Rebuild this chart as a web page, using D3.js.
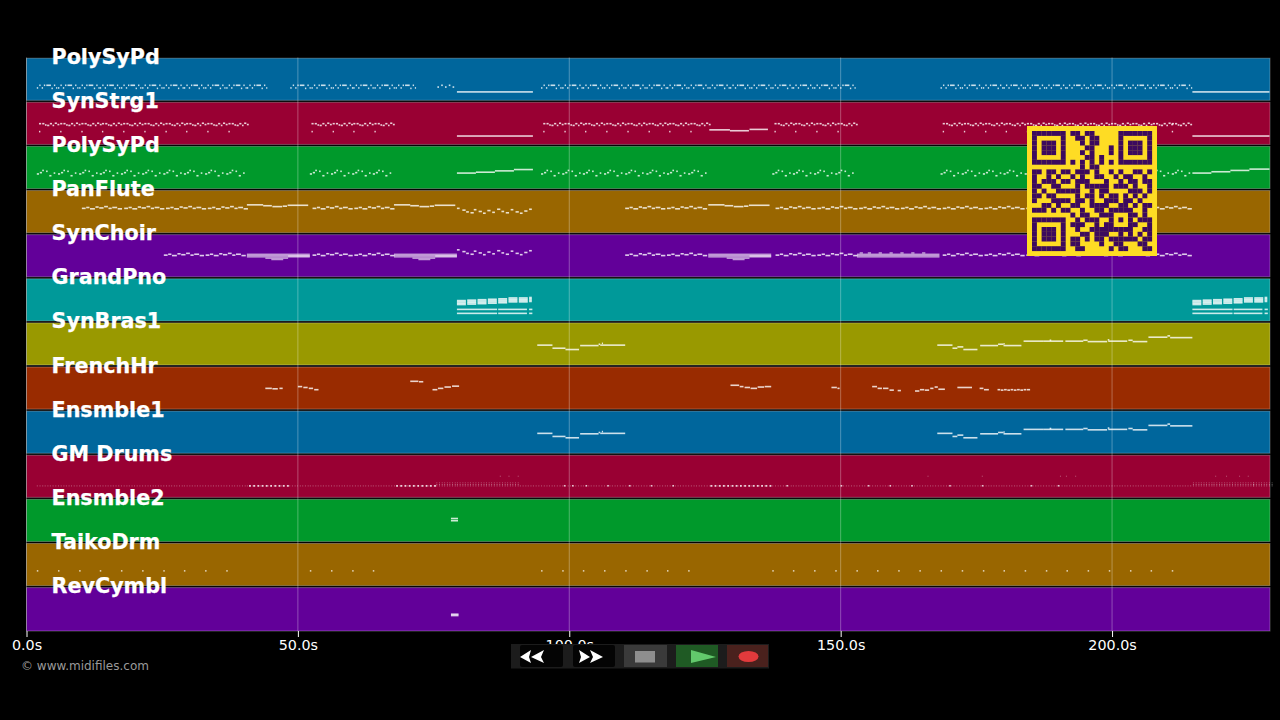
<!DOCTYPE html>
<html><head><meta charset="utf-8">
<script src="https://cdn.jsdelivr.net/npm/d3@7"></script>
<style>html,body{margin:0;background:#000;overflow:hidden}svg{display:block}text{font-family:"DejaVu Sans",sans-serif}</style>
</head><body><svg id="c" width="1280" height="720"></svg>
<script>
const trackNames=["PolySyPd","SynStrg1","PolySyPd","PanFlute","SynChoir","GrandPno","SynBras1","FrenchHr","Ensmble1","GM Drums","Ensmble2","TaikoDrm","RevCymbl"];
const laneColors=["#00669c","#990033","#00992b","#996600","#620099","#009999","#999900","#992b00","#00669c","#990033","#00992b","#996600","#620099"];
const tickValues=[0,50,100,150,200];
// every note: [start seconds, duration seconds, level within lane 0-100]
const padMotif=[[0,.25,31],[.45,.25,37],[.9,.25,31],[1.3,.25,37],[1.75,.85,37],[2.7,.25,30],[3.15,.25,37],[3.55,.2,31]];
const padBars=[1.9,5.8,9.7,13.5,17.4,21.3,25.2,29,32.9,36.8,40.6,48.6,52.5,56.4,60.2,64.1,68,94.8,98.7,102.5,106.4,110.3,114.2,118,121.9,125.8,129.6,133.5,137.4,141.2,145.1,149,168.4,172.3,176.2,180,183.9,187.8,191.6,195.5,199.4,203.3,207.1,211];
const padExtra=[[75.7,.3,33],[76.4,.3,37],[77.1,.3,33],[77.8,.3,37],[78.5,.3,33],[79.3,14,22],[214.8,14.2,22]];
const strMotif=[[0,.4,50],[.6,.4,50],[1.1,.3,47],[1.5,.4,46],[2,.4,50],[2.5,.3,46],[2.9,.4,51],[3.4,.35,48]];
const strLow=[[0,.25,32]];
const strBars=[2.3,6.2,10.1,13.9,17.8,21.7,25.6,29.4,33.3,37.2,52.5,56.4,60.2,64.1,95.2,99.1,102.9,106.8,110.7,114.6,118.4,122.3,137.8,141.6,145.5,149.4,168.8,172.7,176.6,180.4,184.3,188.2,192,195.9,199.8,203.7,207.5,211];
const strExtra=[[79.3,14,22],[125.8,3.8,36],[129.6,3.5,34],[133.2,3.4,37],[214.8,14.2,22]];
const arpMotif=[[0,.4,36],[.55,.4,39],[1,.3,44],[1.7,.3,42],[2.3,.4,32],[3.1,.3,38]];
const arpBars=[1.9,5.8,9.7,13.5,17.4,21.3,25.2,29,32.9,36.8,52.2,56.1,60,63.8,94.8,98.7,102.5,106.4,110.3,114.2,118,121.9,137.4,141.2,145.1,149,168.4,172.3,176.2,180,183.9,187.8,191.6,195.5,199.4,203.3,207.1,211];
const arpRise=[[79.3,3.5,38],[82.8,3.5,40],[86.3,3.5,43],[89.8,3.5,46],[214.8,3.5,38],[218.3,3.5,41],[221.8,3.5,44],[225.3,3.7,47]];
const fluteWiggle=[[0,.7,58],[.8,.6,60],[1.5,.9,57],[2.5,.6,61],[3.2,.8,59],[4.1,.7,62],[4.9,.6,58],[5.6,.9,60],[6.6,.8,57]];
const choirWiggle=[[0,.7,52],[.8,.6,54],[1.5,.9,51],[2.5,.6,55],[3.2,.8,53],[4.1,.7,56],[4.9,.6,52],[5.6,.9,54],[6.6,.8,51]];
const fluteHigh=[[0,3,66],[3,1.6,64],[4.7,1.8,62],[6.6,.8,63],[7.5,3.8,65]];
const fluteDots=[[0,.5,58],[1,.6,54],[1.7,.5,50],[2.5,.6,48],[3.1,.5,55],[4,.6,51],[4.8,.5,47],[5.6,.6,53],[6.5,.5,49],[7.4,.6,56],[8.2,.5,51],[9,.6,48],[9.9,.5,55],[10.8,.6,50],[11.6,.5,47],[12.4,.6,52],[13.3,.5,56]];
const choirDots=[[0,.5,64],[1,.6,60],[1.7,.5,56],[2.5,.6,54],[3.1,.5,61],[4,.6,57],[4.8,.5,53],[5.6,.6,59],[6.5,.5,55],[7.4,.6,62],[8.2,.5,57],[9,.6,54],[9.9,.5,61],[10.8,.6,56],[11.6,.5,53],[12.4,.6,58],[13.3,.5,62]];
const fluteWiggleStarts=[10.2,18,25.7,33.4,52.7,60.4,110.3,118,138,145.7,153.4,161.1,168.8,176.5,184.2,191.9,199.6,207.3];
const fluteHighStarts=[40.6,67.7,125.6];
const dotStart=[79.3];
const choirBars=[[0,11.6,54],[0,11.6,51],[0,11.6,48],[3.4,4.2,45],[4.5,2.2,42],[7.6,4,50]];
const choirWiggleStarts=[25.3,33,52.7,60.4,110.3,118,138,145.7,168.8,176.5,184.2,191.9,199.6,207.3];
const choirHighStarts=[40.6,67.7,125.6];
const choirExtra=[[153,15.2,54],[153,15.2,51],[153,15.2,48],[153.5,.6,57],[155,.6,57],[157,.6,57],[159,.6,57],[161,.6,57],[163,.6,57],[165,.6,57]];
const brassBlockStarts=[0,1.9,3.8,5.7,7.6,9.5,11.4,13.3];
const brassBlockLengths=[1.65,1.65,1.65,1.65,1.65,1.65,1.65,.5];
const brassBlockLevels=[[49,46,43,40],[50,47,44,41],[51,48,45,42],[52,49,46,43],[53,50,47,44],[55,52,49,46],[55,52,49,46],[56,53,50,47]];
const brassSections=[79.3,214.8];
const brassLines=[[0,7.4,29],[0,7.4,20],[7.6,5.3,29],[7.6,5.3,20],[13.3,.6,29],[13.3,.6,20]];
const hornMelodyA=[[94.1,2.8,48],[96.9,2.4,41],[99.3,2.5,38],[102,3.4,47],[105.4,.3,50],[105.7,4.6,48]];
const hornMelodyB=[[167.8,2.8,48],[170.6,.9,41],[171.5,1.1,44],[172.6,2.6,38],[175.7,3.3,47],[179,1,50],[180,3.3,47],[183.7,3.6,57],[187.3,3.7,57],[191.4,3.3,57],[194.7,.8,59],[195.5,3.6,56],[199.3,3.5,57],[203,.8,59],[203.8,2.7,56],[206.7,3.5,66],[210.2,.5,69],[210.7,4.1,65]];
const brassHits=[[106,.2,52],[180,.2,51],[188.5,.3,59],[199.2,.3,60]];
const synth2=[[44,1.2,50],[45.3,1,49],[46.6,.6,50],[50,.8,54],[51,.8,52],[52,.8,50],[53,.8,47],[70.7,1.5,66],[72.3,.8,65],[74.8,.9,47],[75.8,1,50],[77,1.2,53],[78.4,1.3,55],[129.7,1.6,57],[131.4,.7,54],[132.3,1,52],[133.4,1.2,50],[134.7,1.2,53],[136,1.2,54],[148.3,1,52],[149.4,.4,50],[155.8,.9,54],[156.8,.8,50],[157.8,1,50],[159,.8,46],[160.5,.6,45],[163.7,.8,44],[164.6,.8,47],[165.5,.8,46],[166.5,.6,50],[167.3,.6,53],[168,1.2,48],[171.5,2.7,52],[175.6,.7,50],[176.4,.9,47],[178.9,.5,47],[179.5,.5,46],[180.1,.5,47],[180.7,.5,46],[181.3,.5,47],[181.9,.5,46],[182.5,.5,47],[183.1,.5,46],[183.7,.5,47],[184.3,.6,47]];
const drumMotif=[0,.5,1,1.45,1.95,2.4,2.9,3.4];
const drumBrightMotif=[0,.77,1.55,2.32,3.1];
const drumBars=[1.9,5.8,9.7,13.5,17.4,21.3,25.2,29,32.9,36.8,40.6,44.5,48.4,52.2,56.1,60,63.8,67.7,71.6,75.5,79.3,83.2,87.1,90.9,94.8,98.7,102.5,106.4,110.3,114.2,118,121.9,125.8,129.6,133.5,137.4,141.2,145.1,149,152.9,156.7,160.6,164.5,168.4,172.3,176.2,180,183.9,187.8,191.6,195.5,199.4,203.3,207.1,211,214.9,218.7,222.6,226];
const drumBrightBars=[41,44.9,68.1,72,126,129.9,133.8];
const drumHatBars=[75.5,79.3,83.2,87.1,214.9,218.7,222.6,226];
const drumScattered=[99,100.5,103,107,111,115,119,140,150,155,159,163,170,176,185,190];
const drumHigh=[87.2,88.8,90.5,166,176,190.4,191.5,193.2,219,221,223.4,225];
const padHit=[[78.2,1.3,55],[78.2,1.3,50]];
const taikoTimes=[1.9,5.8,9.7,13.5,17.4,21.3,25.2,29,32.9,36.8,52.2,56.1,60,63.8,94.8,98.7,102.5,106.4,110.3,114.2,118,121.9,137.4,141.2,145.1,149,152.9,156.7,160.6,164.5,168.4,172.3,176.2,180,183.9,187.8,191.6,195.5,199.4,203.3,207.1,211];
const cymbalHit=[[78.2,1.4,38],[78.2,1.4,35]];
const qrRows=[
"1111111011011000001111111",
"1000001001101100001000001",
"1011101000101100001011101",
"1011101000011000101011101",
"1011101000101000101011101",
"1000001000011010001000001",
"1111111010101010101111111",
"0000000000101100000000000",
"1101101101110100101001101",
"1001010010100110010110010",
"1011101101110001001011011",
"1100110001011111011101001",
"1010011111001011000011101",
"1101100001011010110101010",
"1000111101101001110110100",
"0011010011001111001101011",
"1110101100100110111110010",
"0000000010110011100011010",
"1111111001011100101010111",
"1000001011100101100011001",
"1011101001001111111110011",
"1011101000110111001010101",
"1011101011010110111111011",
"1000001011000010011000110",
"1111111001100000101100011"];

const svg=d3.select("#c");
const x=d3.scaleLinear().domain([0,229.1]).range([26.5,1270]);
const lane=d3.scaleBand().domain(d3.range(trackNames.length)).range([57.5,631]);
const level=d3.scaleLinear().domain([0,100]).range([lane.bandwidth(),0]);
const at=(bars,motif)=>bars.flatMap(b=>motif.map(n=>[b+n[0],n[1],n[2]]));
const beats=(bars,motif,lv)=>bars.flatMap(b=>motif.map(t=>[b+t,0,lv]));
const tracks=[
 at(padBars,padMotif).concat(padExtra),
 at(strBars,strMotif).concat(at(strBars,strLow),strExtra),
 at(arpBars,arpMotif).concat(arpRise),
 at(fluteWiggleStarts,fluteWiggle).concat(at(fluteHighStarts,fluteHigh),at(dotStart,fluteDots)),
 at(choirWiggleStarts,choirWiggle).concat(at(dotStart,choirDots)),
 brassSections.flatMap(s=>brassBlockStarts.flatMap((b,i)=>brassBlockLevels[i].map(l=>[s+b,brassBlockLengths[i],l])).concat(at([s],brassLines))),
 hornMelodyA.concat(hornMelodyB,brassHits),
 synth2,
 hornMelodyA.concat(hornMelodyB,brassHits),
 [],
 padHit,
 [],
 cymbalHit
];
const g=svg.selectAll("g.lane").data(trackNames).join("g").attr("class","lane")
 .attr("transform",(d,i)=>`translate(0,${lane(i)})`);
g.append("rect").attr("x",x(0)).attr("width",x.range()[1]-x(0)).attr("y",.7)
 .attr("height",(d,i)=>lane.bandwidth()-(i===12?.7:2))
 .attr("fill",(d,i)=>laneColors[i]).attr("stroke","rgba(255,255,255,.28)").attr("stroke-width",1);
g.each(function(d,i){
 d3.select(this).selectAll("rect.n").data(tracks[i]).join("rect").attr("class","n")
  .attr("x",n=>x(n[0])).attr("y",n=>level(n[2])-.8)
  .attr("width",n=>Math.max(1.2,x(n[0]+n[1])-x(n[0]))).attr("height",1.6)
  .attr("fill","#fff").attr("fill-opacity",.8);
});
// choir held chords are paler blocks
g.filter((d,i)=>i===4).selectAll("rect.c").data(at(choirHighStarts,choirBars).concat(choirExtra)).join("rect").attr("class","c")
 .attr("x",n=>x(n[0])).attr("y",n=>level(n[2])-.7).attr("width",n=>x(n[0]+n[1])-x(n[0])).attr("height",1.4)
 .attr("fill","#fff").attr("fill-opacity",.6);
// drums
const dr=g.filter((d,i)=>i===9);
const dots=(cls,data,w,op)=>dr.selectAll("rect."+cls).data(data).join("rect").attr("class",cls)
 .attr("x",n=>x(n[0])).attr("y",n=>level(n[2])).attr("width",w).attr("height",w).attr("fill","#fff").attr("fill-opacity",op);
dots("k",beats(drumBars,drumMotif,30),1,.36);
dots("h1",beats(drumHatBars,drumMotif,33),1,.4);
dots("h2",beats(drumHatBars,drumMotif,37),1,.3);
dots("b",beats(drumBrightBars,drumBrightMotif,31),1.8,.8);
dots("s",drumScattered.map(t=>[t,0,31]),1.6,.75);
dots("u",drumHigh.map(t=>[t,0,52]),1,.35);
g.filter((d,i)=>i===11).selectAll("rect.t").data(taikoTimes).join("rect").attr("class","t")
 .attr("x",t=>x(t)).attr("y",level(38)).attr("width",1.5).attr("height",1.5).attr("fill","#fff").attr("fill-opacity",.75);
// grid
svg.append("g").selectAll("line").data(tickValues).join("line")
 .attr("x1",x).attr("x2",x).attr("y1",57.5).attr("y2",631).attr("stroke","#fff").attr("stroke-opacity",.3);
// labels
svg.append("g").selectAll("text").data(trackNames).join("text")
 .attr("x",51.5).attr("y",(d,i)=>lane(i)+6.3).attr("font-size",20.7).attr("font-weight","bold").attr("fill","#fff")
 .attr("stroke","#fff").attr("stroke-width",.25).text(d=>d);
// axis
const ax=svg.append("g").attr("transform","translate(0,631)").call(d3.axisBottom(x).tickValues(tickValues).tickFormat(d=>d.toFixed(1)+"s").tickSize(6).tickPadding(3));
ax.select(".domain").remove();
ax.selectAll("line").attr("stroke","#fff");
ax.selectAll("text").attr("fill","#fff").attr("font-size",14.3).attr("font-family","DejaVu Sans");
svg.append("text").attr("x",21).attr("y",669.5).attr("font-size",12).attr("fill","#9a9a9a").text("© www.midifiles.com");
// QR
const qr=svg.append("g").attr("transform","translate(1027,126)");
qr.append("rect").attr("width",130).attr("height",130).attr("fill","#fedc24");
const m=d3.scaleBand().domain(d3.range(25)).range([5,125]);
qrRows.forEach((r,ri)=>{qr.append("g").selectAll("rect").data(r.split("").map((c,ci)=>[c,ci]).filter(a=>a[0]==="1")).join("rect")
 .attr("x",a=>m(a[1])).attr("y",m(ri)).attr("width",m.bandwidth()+.1).attr("height",m.bandwidth()+.1).attr("fill","#3c0a5e");});
// transport controls
const pc=svg.append("g");
pc.append("rect").attr("x",511).attr("y",644).attr("width",258).attr("height",24.5).attr("fill","#1c1c1c");
[[520,43],[573,42]].forEach(b=>pc.append("rect").attr("x",b[0]).attr("y",645).attr("width",b[1]).attr("height",22).attr("rx",2).attr("fill","#040404"));
pc.append("rect").attr("x",624).attr("y",645).attr("width",43).attr("height",22).attr("fill","#3a3a3a");
pc.append("rect").attr("x",635).attr("y",651).attr("width",20).attr("height",11.5).attr("fill","#8e8e8e");
pc.append("rect").attr("x",676).attr("y",645).attr("width",42).attr("height",22).attr("fill","#1f5a24");
pc.append("polygon").attr("points","691,650 716,657 691,663").attr("fill","#62c96c");
pc.append("rect").attr("x",727).attr("y",645).attr("width",41).attr("height",22).attr("fill","#4a211d");
pc.append("ellipse").attr("cx",748.5).attr("cy",656.5).attr("rx",10).attr("ry",5.5).attr("fill","#e23a3c");
pc.append("polygon").attr("points","520,657 531,650 529,657 531,663").attr("fill","#fff");
pc.append("polygon").attr("points","531,657 544,650 541,657 544,663").attr("fill","#fff");
pc.append("polygon").attr("points","579,650 590,657 579,663 581,657").attr("fill","#fff");
pc.append("polygon").attr("points","590,650 603,657 590,663 593,657").attr("fill","#fff");
</script></body></html>
